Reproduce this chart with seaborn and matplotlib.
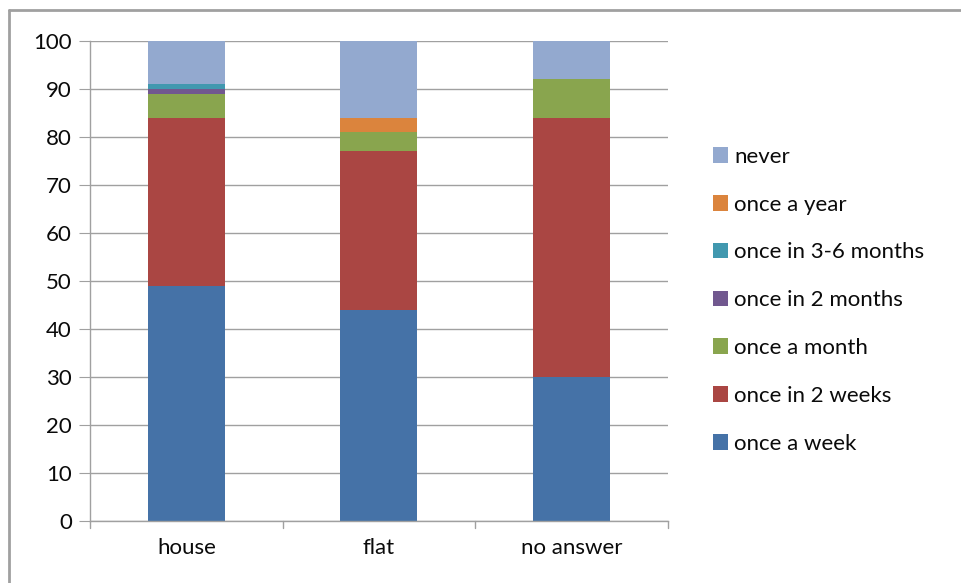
import matplotlib
matplotlib.use("Agg")
import matplotlib.pyplot as plt
import matplotlib.lines as mlines
import seaborn as sb
import numpy as np
import pandas as pd

categories = ["house", "flat", "no answer"]
series_names = ["once a week", "once in 2 weeks", "once a month", "once in 2 months",
                "once in 3-6 months", "once a year", "never"]
once_a_week = [49, 44, 30]
once_in_2_weeks = [35, 33, 54]
once_a_month = [5, 4, 8]
once_in_2_months = [1, 0, 0]
once_in_3_6_months = [1, 0, 0]
once_a_year = [0, 3, 0]
never = [9, 16, 8]
yticks = [0, 10, 20, 30, 40, 50, 60, 70, 80, 90, 100]

colors = ["#4572A7", "#AA4643", "#89A54E", "#71588F", "#4198AF", "#DB843D", "#93A9CF"]

sb.set_style("white")
plt.rcParams["font.family"] = ["Lato", "DejaVu Sans"]

values = [once_a_week, once_in_2_weeks, once_a_month, once_in_2_months,
          once_in_3_6_months, once_a_year, never]
df = pd.DataFrame({"category": categories})
for name, vals in zip(series_names, values):
    df[name] = vals

fig = plt.figure(figsize=(9.61, 5.83), dpi=100)
ax = fig.add_axes([0.0937, 0.1063, 0.6013, 0.8234])

bottom = np.zeros(len(categories))
for name, color in zip(series_names, colors):
    sb.barplot(data=df, x="category", y=name, bottom=bottom, color=color,
               width=0.4, ax=ax, label=name, saturation=1, linewidth=0)
    bottom = bottom + df[name].values
ax.get_legend().remove()

ax.set_ylim(0, 100)
ax.set_xlim(-0.5, 2.5)
ax.set_yticks(yticks)
ax.set_yticklabels([str(t) for t in yticks], fontsize=16, color="#0a0a0a")
ax.set_xlabel("")
ax.set_ylabel("")
ax.tick_params(axis="x", labelsize=16, labelcolor="#0a0a0a", length=0, pad=12)
ax.tick_params(axis="y", length=8, color="#a0a0a0", direction="out", left=True, pad=5)
ax.yaxis.grid(True, color="#a0a0a0", linewidth=1)
ax.set_axisbelow(True)
for s in ["top", "right"]:
    ax.spines[s].set_visible(False)
for s in ["left", "bottom"]:
    ax.spines[s].set_color("#a0a0a0")
    ax.spines[s].set_linewidth(1)

# category boundary ticks on x axis
for xb in [-0.5, 0.5, 1.5, 2.5]:
    ax.plot([xb, xb], [0, -1.5], color="#a0a0a0", linewidth=1, clip_on=False)

handles, labels = ax.get_legend_handles_labels()
leg = fig.legend(handles[::-1], labels[::-1], loc="center left",
                 bbox_to_anchor=(0.721, 0.485), frameon=False, fontsize=16,
                 handlelength=0.7, handleheight=0.7, handletextpad=0.25,
                 labelspacing=1.25)
for t in leg.get_texts():
    t.set_color("#0a0a0a")

# outer chart frame (left and top edges visible)
fig.add_artist(mlines.Line2D([0.009, 0.009], [0.0, 0.983], transform=fig.transFigure,
                             color="#a0a0a0", linewidth=2))
fig.add_artist(mlines.Line2D([0.009, 1.0], [0.983, 0.983], transform=fig.transFigure,
                             color="#a0a0a0", linewidth=2))

fig.savefig("out.png", dpi=100)
